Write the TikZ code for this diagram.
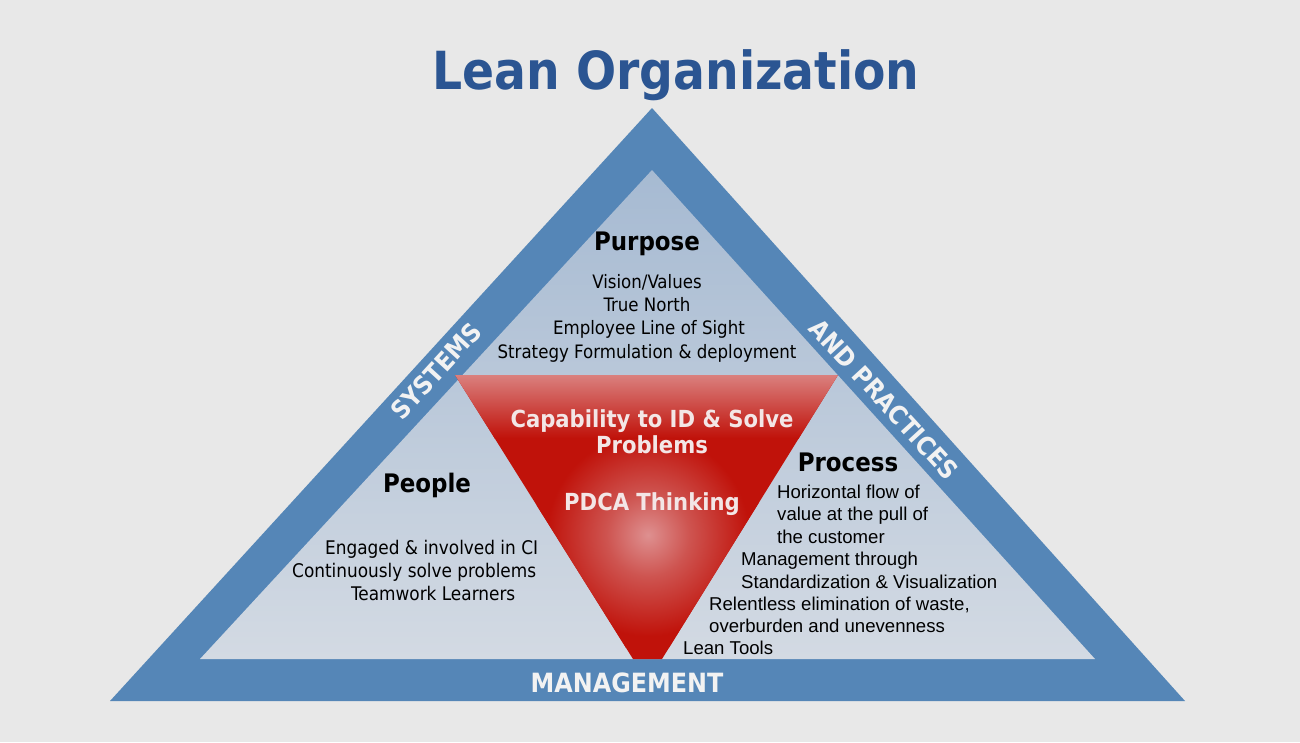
\documentclass[tikz,border=0pt]{standalone}
\usepackage{fontspec}
\setmainfont{DejaVu Sans Condensed}
\newfontfamily\arialfont{Liberation Sans}
\definecolor{bggrey}{HTML}{E8E8E8}
\definecolor{bandblue}{HTML}{5586B7}
\definecolor{innertop}{HTML}{A6BAD2}
\definecolor{innermid}{HTML}{B9C8DA}
\definecolor{innerbot}{HTML}{D3DAE3}
\definecolor{titleblue}{HTML}{2B5592}
\definecolor{reddark}{HTML}{C0120A}
\definecolor{redmid}{HTML}{CE5450}
\definecolor{redglow}{HTML}{DE9090}
\definecolor{redtop}{HTML}{DA807E}
\definecolor{paletext}{HTML}{F3E6E6}
\definecolor{bandtext}{HTML}{F2F2F2}
\pgfdeclareradialshading{redglowshade}{\pgfpointorigin}{color(0bp)=(redglow); color(9bp)=(redmid); color(22bp)=(reddark); color(50bp)=(reddark)}

\begin{document}
\begin{tikzpicture}[x=1pt, y=-1pt]
	%\draw[help lines] (0,0) grid (1300,742);
	\fill [bggrey] (0,0) rectangle (1300,742);
	
	\fill [bandblue] (652,108) -- (1185,701) -- (110,701) -- cycle;
	\shade [top color=innertop, middle color=innermid, bottom color=innerbot] (652,170) -- (1095,659) -- (200,659) -- cycle;
	
	\begin{scope}
		\clip (455,375) -- (838,375) -- (662,659) -- (633,659) -- cycle;
		\fill [reddark] (450,370) rectangle (845,665);
		\shade [shading=redglowshade] (648,535) circle (115);
		\shade [top color=redtop, bottom color=reddark] (450,375) rectangle (845,438);
	\end{scope}
	
	\node [anchor=base, text=titleblue, font=\bfseries\fontsize{52.5}{60}\selectfont] (title) at (676,89) {Lean Organization};
	
	\node [rotate=47.5, text=bandtext, font=\bfseries\fontsize{25.5}{28}\selectfont] (systems) at (436,371) {SYSTEMS};
	\node [rotate=-47.5, text=bandtext, font=\bfseries\fontsize{25.5}{28}\selectfont] (practices) at (884,399) {AND PRACTICES};
	\node [anchor=base, text=bandtext, font=\bfseries\fontsize{26.5}{30}\selectfont] (mgmt) at (627,692) {MANAGEMENT};
	
	\node [anchor=base, font=\bfseries\fontsize{25.5}{30}\selectfont] (purpose) at (647,250) {Purpose};
	\node [anchor=base, font=\fontsize{18.5}{22}\selectfont] (pur1) at (647,288) {Vision/Values};
	\node [anchor=base, font=\fontsize{18.5}{22}\selectfont] (pur2) at (647,311) {True North};
	\node [anchor=base, font=\fontsize{18.5}{22}\selectfont] (pur3) at (649,334) {Employee Line of Sight};
	\node [anchor=base, font=\fontsize{18.5}{22}\selectfont] (pur4) at (647,358) {Strategy Formulation \& deployment};
	
	\node [anchor=base, text=paletext, font=\bfseries\fontsize{23.5}{28}\selectfont] (cap1) at (652,427) {Capability to ID \& Solve};
	\node [anchor=base, text=paletext, font=\bfseries\fontsize{23.5}{28}\selectfont] (cap2) at (652,453) {Problems};
	\node [anchor=base, text=paletext, font=\bfseries\fontsize{23.5}{28}\selectfont] (pdca) at (652,510) {PDCA Thinking};
	
	\node [anchor=base, font=\bfseries\fontsize{25.5}{30}\selectfont] (people) at (427,492) {People};
	\node [anchor=base west, inner sep=0pt, font=\fontsize{18.8}{22}\selectfont] (peo1) at (325,554) {Engaged \& involved in CI};
	\node [anchor=base west, inner sep=0pt, font=\fontsize{18.8}{22}\selectfont] (peo2) at (292,577) {Continuously solve problems};
	\node [anchor=base west, inner sep=0pt, font=\fontsize{18.8}{22}\selectfont] (peo3) at (351,600) {Teamwork Learners};
	
	\node [anchor=base, font=\bfseries\fontsize{25.5}{30}\selectfont] (process) at (848,471) {Process};
	\node [anchor=base west, inner sep=0pt, font=\arialfont\fontsize{18.6}{22}\selectfont] (pro1) at (777,498) {Horizontal flow of};
	\node [anchor=base west, inner sep=0pt, font=\arialfont\fontsize{18.6}{22}\selectfont] (pro2) at (777,520) {value at the pull of};
	\node [anchor=base west, inner sep=0pt, font=\arialfont\fontsize{18.6}{22}\selectfont] (pro3) at (777,543) {the customer};
	\node [anchor=base west, inner sep=0pt, font=\arialfont\fontsize{18.6}{22}\selectfont] (pro4) at (741,565) {Management through};
	\node [anchor=base west, inner sep=0pt, font=\arialfont\fontsize{18.6}{22}\selectfont] (pro5) at (741,588) {Standardization \& Visualization};
	\node [anchor=base west, inner sep=0pt, font=\arialfont\fontsize{18.6}{22}\selectfont] (pro6) at (709,610) {Relentless elimination of waste,};
	\node [anchor=base west, inner sep=0pt, font=\arialfont\fontsize{18.6}{22}\selectfont] (pro7) at (709,632) {overburden and unevenness};
	\node [anchor=base west, inner sep=0pt, font=\arialfont\fontsize{18.6}{22}\selectfont] (pro8) at (683,654) {Lean Tools};
	
\end{tikzpicture}
\end{document}
